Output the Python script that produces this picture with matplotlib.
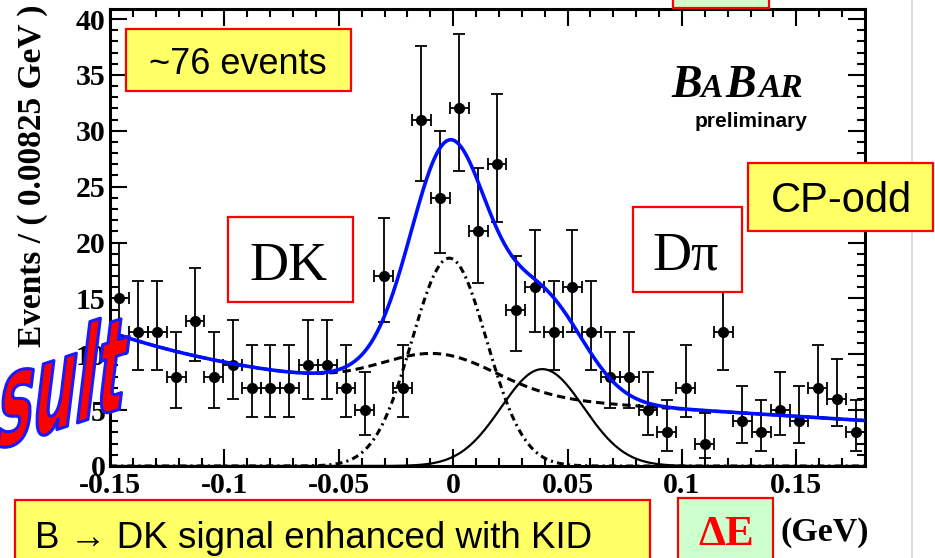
import numpy as np
import matplotlib
matplotlib.use('Agg')
import matplotlib.pyplot as plt
import matplotlib.patheffects as pe
from matplotlib.patches import Rectangle
from matplotlib.lines import Line2D
from matplotlib.ticker import MultipleLocator, FuncFormatter
from matplotlib.transforms import Affine2D

W, H = 935, 558

# histogram: 40 bins of 0.00825 GeV over [-0.15, 0.18]
bin_lo, bin_w = -0.15, 0.00825
counts = [15, 12, 12, 8, 13, 8, 9, 7, 7, 7, 9, 9, 7, 5, 17, 7, 31, 24, 32, 21,
          27, 14, 16, 12, 16, 12, 8, 8, 5, 3, 7, 2, 12, 4, 3, 5, 4, 7, 6, 3]
err_lo = [3.8, 3.4, 3.4, 2.8, 3.6, 2.8, 3.0, 2.6, 2.6, 2.6, 3.0, 3.0, 2.6, 2.2, 4.1, 2.6, 5.5, 4.9, 5.6, 4.6,
          5.2, 3.7, 4.0, 3.4, 4.0, 3.4, 2.8, 2.8, 2.2, 1.7, 2.6, 1.3, 3.4, 1.9, 1.7, 2.2, 1.9, 2.6, 2.4, 1.7]
err_hi = [5.0, 4.6, 4.6, 4.0, 4.7, 4.0, 4.1, 3.8, 3.8, 3.8, 4.1, 4.1, 3.8, 3.4, 5.2, 3.8, 6.6, 6.0, 6.7, 5.7,
          6.3, 4.8, 5.1, 4.6, 5.1, 4.6, 4.0, 4.0, 3.4, 2.9, 3.8, 2.7, 4.6, 3.2, 2.9, 3.4, 3.2, 3.8, 3.6, 2.9]

# fit components, parameters
bkg_p0, bkg_p1 = 6.2, -12.0
bkg_amp, bkg_k = 4.0, 14.9
bump_h, bump_mu, bump_sig = 3.3, -0.006, 0.025
dk_h, dk_mu, dk_sig = 18.6, -0.0017, 0.0163
dpi_h, dpi_mu, dpi_sig = 8.67, 0.039, 0.018


def gauss(x, h, mu, sig):
    return h * np.exp(-0.5 * ((x - mu) / sig) ** 2)


centers = bin_lo + bin_w * (np.arange(len(counts)) + 0.5)
xs = np.linspace(-0.15, 0.18, 700)
bkg = (bkg_p0 + bkg_p1 * xs + bkg_amp * np.exp(-bkg_k * (xs - bin_lo))
       + gauss(xs, bump_h, bump_mu, bump_sig))
dk = gauss(xs, dk_h, dk_mu, dk_sig)
dpi = gauss(xs, dpi_h, dpi_mu, dpi_sig)
total = bkg + dk + dpi

plt.rcParams['lines.scale_dashes'] = False
SERIF = 'Liberation Serif'
SANS = ['Liberation Sans', 'DejaVu Sans']


def fx(px):
    return px / W


def fy(py):
    return 1 - py / H


fig = plt.figure(figsize=(W / 100, H / 100), dpi=100)
ax = fig.add_axes([fx(110), fy(466), (865 - 110) / W, (466 - 9) / H])

ax.errorbar(centers, counts, yerr=[err_lo, err_hi], xerr=bin_w / 2, fmt='o',
            color='black', ms=7, capsize=4, elinewidth=1.3, capthick=1.3, zorder=2)
ax.plot(xs, bkg, color='black', lw=2.2, ls=(0, (6, 3.5)), zorder=3)
ax.plot(xs, dk, color='black', lw=2.2, ls=(0, (5, 3, 1.5, 3)), zorder=3)
ax.plot(xs, dpi, color='black', lw=1.6, zorder=3)
ax.plot(xs, total, color='#0010ff', lw=2.6, zorder=4)

ax.set_xlim(-0.15, 0.18)
ax.set_ylim(0, 40.9)
ax.xaxis.set_major_locator(MultipleLocator(0.05))
ax.xaxis.set_minor_locator(MultipleLocator(0.01))
ax.yaxis.set_major_locator(MultipleLocator(5))
ax.yaxis.set_minor_locator(MultipleLocator(1))
ax.xaxis.set_major_formatter(FuncFormatter(lambda v, p: '%g' % round(v, 3)))
ax.yaxis.set_major_formatter(FuncFormatter(lambda v, p: '%d' % round(v)))
ax.tick_params(which='both', direction='in', top=True, right=True, width=1.5)
ax.tick_params(which='major', length=12)
ax.tick_params(which='minor', length=6)
ax.tick_params(axis='x', pad=4)
ax.tick_params(axis='y', pad=3)
for lab in ax.get_xticklabels() + ax.get_yticklabels():
    lab.set_fontfamily(SERIF)
    lab.set_fontweight('bold')
    lab.set_fontsize(21.5)
for sp in ax.spines.values():
    sp.set_linewidth(2.2)

fig.text(fx(33), fy(176), 'Events / ( 0.00825 GeV )', rotation=90, ha='center',
         va='center', family=SERIF, fontweight='bold', fontsize=24)


def box(x0, y0, x1, y1, fc):
    fig.add_artist(Rectangle((fx(x0), fy(y1)), fx(x1) - fx(x0), fy(y0) - fy(y1),
                             transform=fig.transFigure, facecolor=fc,
                             edgecolor='red', lw=1.6, zorder=5))


box(126, 29, 351, 91, '#ffff66')
fig.text(fx(238), fy(74), '~76 events', ha='center', va='baseline', family=SANS, fontsize=26, zorder=6)

box(228, 217, 353, 302, 'white')
fig.text(fx(288), fy(280), 'DK', ha='center', va='baseline', family=SERIF, fontsize=39, zorder=6)

box(633, 207, 742, 292, 'white')
fig.text(fx(686), fy(270), 'Dπ', ha='center', va='baseline', family=SERIF, fontsize=39, zorder=6)

box(748, 163, 933, 231, '#ffff66')
fig.text(fx(841), fy(212), 'CP-odd', ha='center', va='baseline', family=SANS, fontsize=30, zorder=6)

box(673, -5, 769, 8, '#ccffcc')

box(15, 500, 650, 570, '#ffff66')
fig.text(fx(35), fy(548), 'B → DK signal enhanced with KID', ha='left', va='baseline',
         family=SANS, fontsize=26.5, zorder=6)

box(678, 498, 773, 570, '#ccffcc')
fig.text(fx(726), fy(545), 'ΔE', ha='center', va='baseline', family=SERIF,
         fontweight='bold', color='red', fontsize=31, zorder=6)
fig.text(fx(780), fy(541), '(GeV)', ha='left', va='baseline', family=SERIF,
         fontweight='bold', fontsize=24.5, zorder=6)

# BaBar logo
for s, px, size in [('B', 671, 33), ('A', 701, 24), ('B', 725, 33), ('AR', 759, 24)]:
    fig.text(fx(px), fy(97), s, ha='left', va='baseline', family=SERIF,
             fontweight='bold', style='italic', fontsize=size, zorder=6)
fig.text(fx(807), fy(127), 'preliminary', ha='right', va='baseline', family=SANS,
         fontweight='bold', fontsize=15, zorder=6)

# gray page edge on the right
fig.add_artist(Line2D([fx(912), fx(912)], [0, 1], transform=fig.transFigure,
                      color='#d6d6d6', lw=1.2))


class WordArt(pe.AbstractPathEffect):
    def __init__(self, warp, edgecolor, linewidth):
        super().__init__()
        self._warp = warp
        self._ec = edgecolor
        self._lw = linewidth

    def draw_path(self, renderer, gc, tpath, affine, rgbFace=None):
        gc0 = renderer.new_gc()
        gc0.copy_properties(gc)
        gc0.set_foreground(self._ec)
        gc0.set_linewidth(self._lw)
        renderer.draw_path(gc0, tpath, self._warp + affine, rgbFace)
        gc0.restore()


warp = Affine2D().scale(0.45, 1.0).skew_deg(7, 18)
fig.text(fx(-6), fy(450), 'sult', ha='left', va='baseline', family='DejaVu Sans',
         fontweight='heavy', fontsize=96, color='red', zorder=10,
         path_effects=[WordArt(warp, '#1a1aff', 2.2)])

fig.savefig('out.png', dpi=100)
